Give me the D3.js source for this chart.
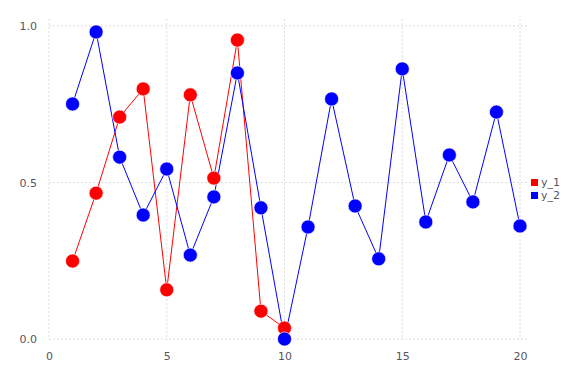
<!DOCTYPE html>
<html><head><meta charset="utf-8">
<script src="https://cdn.jsdelivr.net/npm/d3@7"></script>
<style>body{margin:0;background:#fff}svg{display:block}text{font-family:"DejaVu Sans",sans-serif}</style>
</head><body><svg id="c" width="576" height="384"></svg>
<script>
const x1 = [1,2,3,4,5,6,7,8,9,10];
const y1 = [0.249,0.466,0.709,0.799,0.157,0.780,0.514,0.955,0.089,0.035];
const x2 = [1,2,3,4,5,6,7,8,9,10,11,12,13,14,15,16,17,18,19,20];
const y2 = [0.751,0.981,0.581,0.396,0.543,0.268,0.454,0.850,0.419,0.0,0.358,0.767,0.425,0.256,0.863,0.374,0.588,0.438,0.725,0.361];
const xTicks = [0,5,10,15,20];
const yTicks = [0,0.5,1.0];
const seriesNames = ["y_1","y_2"];
const colors = ["#ff0000","#0000ff"];

const svg = d3.select("#c");
const x = d3.scaleLinear().domain([0,20]).range([49,520]);
const y = d3.scaleLinear().domain([0,1]).range([339,26]);

const grid = svg.append("g");
grid.selectAll("line.v").data(xTicks).join("line")
  .attr("x1",d=>x(d)).attr("x2",d=>x(d)).attr("y1",19).attr("y2",340)
  .attr("stroke","#dcdce4").attr("stroke-width",1).attr("stroke-dasharray","2,2");
grid.selectAll("line.h").data(yTicks).join("line")
  .attr("y1",d=>y(d)).attr("y2",d=>y(d)).attr("x1",49).attr("x2",527)
  .attr("stroke","#dcdce4").attr("stroke-width",1).attr("stroke-dasharray","2,2");

const xAxis = svg.append("g").attr("transform","translate(0,339)")
  .call(d3.axisBottom(x).tickValues(xTicks).tickSize(0).tickPadding(13).tickFormat(d3.format("d")));
const yAxis = svg.append("g").attr("transform","translate(49,0)")
  .call(d3.axisLeft(y).tickValues(yTicks).tickSize(0).tickPadding(12).tickFormat(d3.format(".1f")));
[xAxis,yAxis].forEach(a=>{a.select(".domain").remove();
  a.selectAll("text").attr("fill","#5a5560").attr("font-size","11px").attr("font-family","DejaVu Sans");});

const data = [x1.map((d,i)=>[d,y1[i]]), x2.map((d,i)=>[d,y2[i]])];
const line = d3.line().x(d=>x(d[0])).y(d=>y(d[1]));
data.forEach((s,k)=>{
  svg.append("path").datum(s).attr("d",line).attr("fill","none").attr("stroke",colors[k]).attr("stroke-width",1);
});
data.forEach((s,k)=>{
  svg.append("g").selectAll("circle").data(s).join("circle")
    .attr("cx",d=>x(d[0])).attr("cy",d=>y(d[1])).attr("r",7)
    .attr("fill",colors[k]).attr("stroke","#fff").attr("stroke-width",0.6);
});

const leg = svg.append("g");
seriesNames.forEach((n,i)=>{
  leg.append("rect").attr("x",531).attr("y",179+i*13).attr("width",7).attr("height",7).attr("fill",colors[i]);
  leg.append("text").attr("x",541).attr("y",186+i*13).text(n).attr("fill","#5a5560").attr("font-size","11px");
});
</script></body></html>
